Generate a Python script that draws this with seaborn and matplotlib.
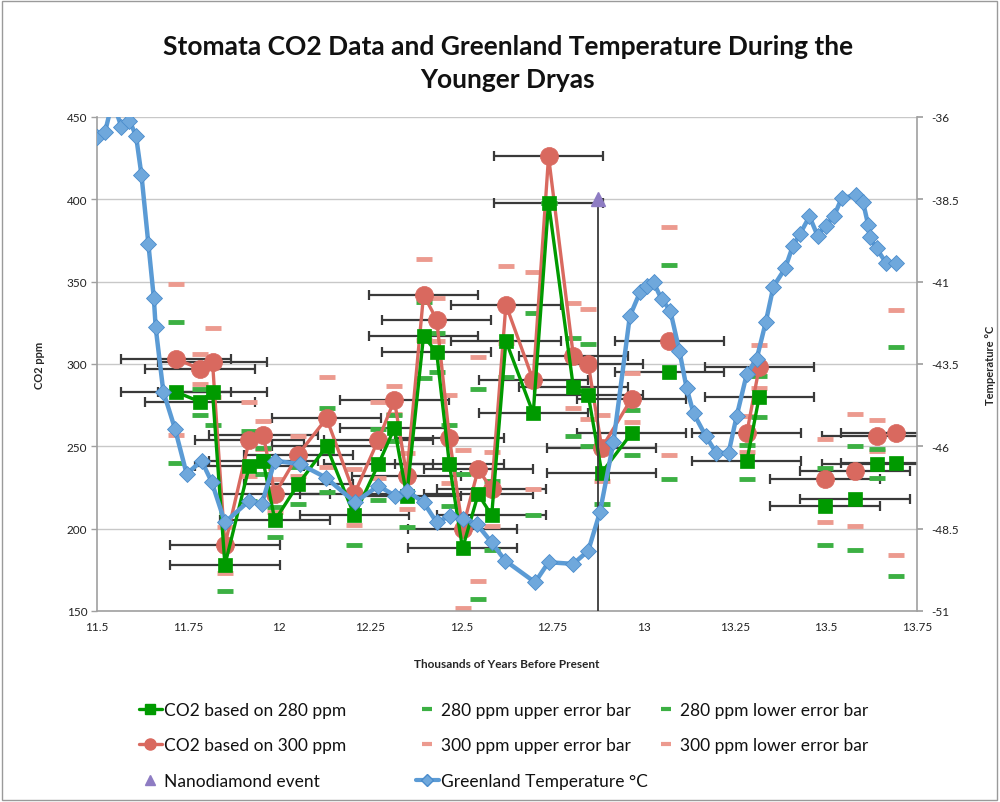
import matplotlib
matplotlib.use("Agg")
import matplotlib.pyplot as plt
from matplotlib.lines import Line2D
from matplotlib.patches import Rectangle
import numpy as np
import pandas as pd
import seaborn as sns

# ---- stomata CO2 reconstructions (age in kyr BP) ----
age = [11.717, 11.783, 11.817, 11.851, 11.918, 11.956, 11.988, 12.052, 12.130,
       12.206, 12.272, 12.316, 12.350, 12.396, 12.432, 12.467, 12.503, 12.546,
       12.583, 12.622, 12.697, 12.739, 12.807, 12.848, 12.885, 12.967, 13.070,
       13.283, 13.317, 13.498, 13.580, 13.639, 13.692]
co2_280 = [283, 277, 283, 178, 238, 241, 205, 227, 250, 208, 239, 261, 220, 317,
           307, 239, 188, 221, 208, 314, 270, 398, 286, 281, 234, 258, 295, 241,
           280, 214, 218, 239, 240]
co2_300 = [303, 297, 301, 190, 254, 257, 221, 245, 267, 221, 254, 278, 232, 342,
           327, 255, 200, 236, 224, 336, 290, 426, 305, 300, 249, 279, 314, 258,
           298, 230, 235, 256, 258]
upper_280 = [325.5, 285, 302, 189, 259, 249, 213, 237.5, 273, 222, 260.5, 269, 233,
             337.5, 319, 263, 233, 285, 229, 336, 331, 398, 316, 312, 252.5, 272,
             360, 250.5, 292.5, 237, 250, 248.5, 310]
lower_280 = [240, 269, 263, 162, 217, 233, 195, 215, 222.5, 190, 217.5, 253, 201,
             291.5, 295, 214, 143, 157.5, 187, 292, 208.5, 398, 256.5, 250, 215,
             244.5, 230, 230, 268, 190, 187, 230.5, 171]
upper_300 = [348.5, 306, 322, 201, 277, 265.5, 230, 256.5, 292, 236, 277, 286.5, 246,
             364, 340, 281, 248, 304.5, 246.5, 359.5, 356, 426, 337, 333.5, 269,
             294.5, 383, 268.5, 311.5, 254.5, 269.5, 266, 333]
lower_300 = [257, 288, 280, 173, 232, 248.5, 210, 232, 237.5, 202, 231, 269.5, 212,
             314.5, 314, 228, 152, 168, 201.5, 312.5, 224, 426, 273.5, 266.5, 229,
             264.5, 245, 246.5, 285.5, 204, 201.5, 247, 184]
# connected runs of samples (blank rows break the line)
run = [0] * 26 + [1, 2, 2, 3, 4, 5, 6]
age_err = 0.15

# ---- nanodiamond layer ----
nano_age = [12.876]
nano_co2 = [400]

# ---- Greenland ice-core temperature ----
temp_age = [11.499, 11.522, 11.543, 11.567, 11.589, 11.607, 11.622, 11.641, 11.656,
            11.661, 11.682, 11.714, 11.746, 11.787, 11.815, 11.851, 11.918, 11.952,
            11.988, 12.057, 12.128, 12.208, 12.272, 12.318, 12.350, 12.396, 12.432,
            12.469, 12.505, 12.542, 12.583, 12.620, 12.702, 12.739, 12.807, 12.848,
            12.880, 12.917, 12.962, 12.990, 13.008, 13.027, 13.049, 13.073, 13.098,
            13.118, 13.137, 13.171, 13.199, 13.233, 13.255, 13.283, 13.310, 13.335,
            13.356, 13.388, 13.409, 13.429, 13.455, 13.477, 13.500, 13.522, 13.543,
            13.582, 13.602, 13.616, 13.620, 13.639, 13.665, 13.692]
temp_c = [-36.62, -36.46, -35.50, -36.31, -36.11, -36.57, -37.76, -39.86, -41.51,
          -42.39, -44.34, -45.47, -46.84, -46.44, -47.09, -48.31, -47.65, -47.75,
          -46.44, -46.54, -46.95, -47.70, -47.20, -47.50, -47.35, -47.70, -48.31,
          -48.11, -48.21, -48.36, -48.92, -49.47, -50.13, -49.52, -49.57, -49.17,
          -48.00, -45.88, -42.05, -41.32, -41.12, -41.02, -41.53, -41.88, -43.10,
          -44.24, -45.00, -45.70, -46.20, -46.20, -45.09, -43.80, -43.35, -42.23,
          -41.15, -40.60, -39.93, -39.55, -39.02, -39.60, -39.30, -39.02, -38.47,
          -38.37, -38.59, -39.28, -39.65, -39.99, -40.43, -40.43]

x_ticks = [11.5, 11.75, 12, 12.25, 12.5, 12.75, 13, 13.25, 13.5, 13.75]
x_labels = ["11.5", "11.75", "12", "12.25", "12.5", "12.75", "13", "13.25", "13.5", "13.75"]
co2_ticks = [150, 200, 250, 300, 350, 400, 450]
temp_ticks = [-51, -48.5, -46, -43.5, -41, -38.5, -36]

GREEN = "#009a00"
GREEN_DASH = "#3cb043"
RED = "#d9695f"
RED_DASH = "#ec9a8f"
BLUE = "#5b9bd5"
PURPLE = "#8e7cc3"
BAR = "#3a3a3a"

sns.set_theme(style="white")
plt.rcParams["font.family"] = ["Lato", "DejaVu Sans"]

df = pd.DataFrame({"age": age, "co2_280": co2_280, "co2_300": co2_300, "run": run})
tdf = pd.DataFrame({"age": temp_age, "temp": temp_c})

fig = plt.figure(figsize=(10, 8.03), dpi=100)
ax = fig.add_axes([0.097, 0.2379, 0.82, 0.6152])
ax.set_axisbelow(True)
ax.yaxis.grid(True, color="#c8c8c8", lw=1.0)

# horizontal age uncertainty
ax.errorbar(age, co2_300, xerr=age_err, fmt="none", ecolor=BAR, elinewidth=1.6,
            capsize=3.5, capthick=1.6, zorder=2)
ax.errorbar(age, co2_280, xerr=age_err, fmt="none", ecolor=BAR, elinewidth=1.6,
            capsize=3.5, capthick=1.6, zorder=2)

# vertical uncertainty markers
dash_kw = dict(ls="none", marker="_", ms=11, mew=3.5, zorder=2.5)
ax.plot(age, upper_300, color=RED_DASH, **dash_kw)
ax.plot(age, lower_300, color=RED_DASH, **dash_kw)
ax.plot(age, upper_280, color=GREEN_DASH, **dash_kw)
ax.plot(age, lower_280, color=GREEN_DASH, **dash_kw)

# CO2 series
sns.lineplot(data=df, x="age", y="co2_300", units="run", estimator=None, sort=False,
             color=RED, lw=2.4, marker="o", ms=13, markeredgecolor=RED,
             markeredgewidth=0.5, ax=ax, legend=False, zorder=3)
sns.lineplot(data=df, x="age", y="co2_280", units="run", estimator=None, sort=False,
             color=GREEN, lw=2.4, marker="s", ms=9.5, markeredgecolor=GREEN,
             markeredgewidth=0.5, ax=ax, legend=False, zorder=3.5)

# nanodiamond event
ax.errorbar(nano_age, nano_co2, yerr=[[nano_co2[0] - 150], [0]], fmt="^", ms=10,
            color=PURPLE, mec=PURPLE, ecolor=BAR, elinewidth=1.3, capsize=0, zorder=4)

ax.set_xlim(11.5, 13.75)
ax.set_ylim(150, 450)
ax.set_xticks(x_ticks)
ax.set_xticklabels(x_labels)
ax.set_yticks(co2_ticks)
ax.tick_params(axis="both", labelsize=8.5, length=4, direction="out",
               width=1, pad=3, colors="#222222")
ax.tick_params(axis="both", color="#a0a0a0")
ax.set_xlabel("Thousands of Years Before Present", fontsize=8.5, fontweight="bold")
ax.set_ylabel("CO2 ppm", fontsize=8, fontweight="bold")
ax.xaxis.set_label_coords(0.5, -0.095)
ax.yaxis.set_label_coords(-0.063, 0.5)
for s in ["left", "bottom"]:
    ax.spines[s].set_color("#a0a0a0")
    ax.spines[s].set_linewidth(1.2)
ax.spines["top"].set_visible(False)
ax.spines["right"].set_visible(False)

# temperature on the secondary axis
ax2 = ax.twinx()
sns.lineplot(data=tdf, x="age", y="temp", estimator=None, sort=False, color=BLUE,
             lw=3.2, marker="D", ms=8, markeredgecolor="#4a8ccc", markeredgewidth=0.6,
             markerfacecolor="#6fa8dc", ax=ax2, legend=False, zorder=5)
ax2.set_ylim(-51, -36)
ax2.set_yticks(temp_ticks)
ax2.set_yticklabels([f"{t:g}" for t in temp_ticks])
ax2.tick_params(axis="y", labelsize=8.5, length=4, direction="out",
                colors="#222222", pad=6)
ax2.tick_params(axis="y", color="#a0a0a0")
ax2.set_ylabel("Temperature °C", fontsize=8, fontweight="bold", rotation=90)
ax2.yaxis.set_label_coords(1.083, 0.5)
for s in ["left", "bottom", "top"]:
    ax2.spines[s].set_visible(False)
ax2.spines["right"].set_color("#a0a0a0")
ax2.spines["right"].set_linewidth(1.2)

fig.text(0.508, 0.921, "Stomata CO2 Data and Greenland Temperature During the\nYounger Dryas",
         ha="center", va="center", fontsize=19, fontweight="bold", linespacing=1.42,
         color="#111111")

# legend, laid out in three columns under the plot
h_280 = Line2D([], [], color=GREEN, lw=2.4, marker="s", ms=7, mec=GREEN)
h_300 = Line2D([], [], color=RED, lw=2.4, marker="o", ms=8, mec=RED)
h_nano = Line2D([], [], ls="none", color=PURPLE, marker="^", ms=7)
h_g_dash = Line2D([], [], ls="none", color=GREEN_DASH, marker="_", ms=7, mew=3)
h_r_dash = Line2D([], [], ls="none", color=RED_DASH, marker="_", ms=7, mew=3)
h_temp = Line2D([], [], color=BLUE, lw=3, marker="D", ms=6, mfc="#6fa8dc", mec="#4a8ccc")

columns = [
    (0.139, [h_280, h_300, h_nano],
     ["CO2 based on 280 ppm", "CO2 based on 300 ppm", "Nanodiamond event"]),
    (0.416, [h_g_dash, h_r_dash, h_temp],
     ["280 ppm upper error bar", "300 ppm upper error bar", "Greenland Temperature °C"]),
    (0.655, [h_g_dash, h_r_dash],
     ["280 ppm lower error bar", "300 ppm lower error bar"]),
]
for x0, hs, ls in columns:
    leg = fig.legend(hs, ls, loc="upper left", bbox_to_anchor=(x0, 1 - 703 / 803),
                     frameon=False, fontsize=12.5, handlelength=1.3, handletextpad=0.15,
                     labelspacing=1.12, borderpad=0, borderaxespad=0)
    for t in leg.get_texts():
        t.set_color("#111111")

fig.patches.append(Rectangle((0.002, 0.003), 0.995, 0.994, transform=fig.transFigure,
                             fill=False, ec="#9a9a9a", lw=1.0))

fig.savefig("out.png", dpi=100)
